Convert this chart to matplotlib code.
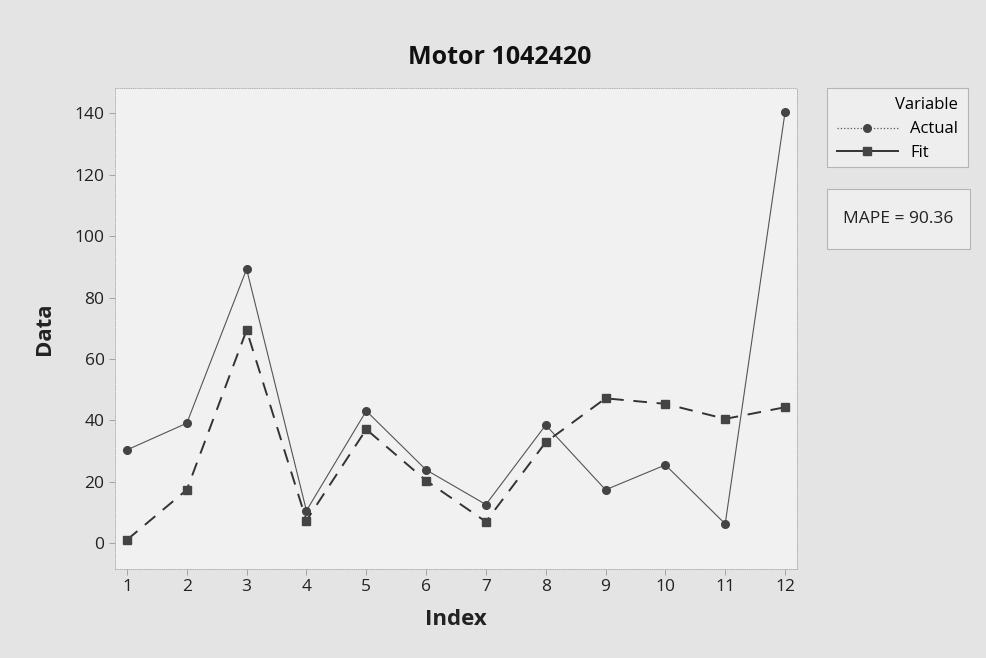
import matplotlib
matplotlib.use("Agg")
import matplotlib.pyplot as plt
from matplotlib.lines import Line2D
from matplotlib.patches import Rectangle

plt.rcParams['font.family'] = ['Open Sans', 'DejaVu Sans']

index = list(range(1, 13))
actual = [30.4, 39.1, 89.3, 10.6, 43.1, 23.9, 12.6, 38.5, 17.4, 25.5, 6.3, 140.4]
fit = [1.1, 17.4, 69.4, 7.4, 37.1, 20.4, 7.0, 32.9, 47.2, 45.4, 40.5, 44.3]
y_ticks = [0, 20, 40, 60, 80, 100, 120, 140]
mape = 90.36

W, H = 987, 658
fig = plt.figure(figsize=(W / 100, H / 100), dpi=100)
fig.patch.set_facecolor('#e4e4e4')
ax = fig.add_axes([115 / W, 1 - 569 / H, (797 - 115) / W, (569 - 88) / H])
ax.set_facecolor('#f1f1f1')

actual_style = dict(color='#555555', lw=0.8, ls='-', marker='o',
                    ms=5.5, mfc='#444444', mec='#444444')
fit_style = dict(color='#333333', lw=1.4, ls=(0, (7, 5)), marker='s',
                 ms=5.5, mfc='#444444', mec='#444444')
ax.plot(index, actual, zorder=3, **actual_style)
ax.plot(index, fit, zorder=3, **fit_style)

ax.set_xlim(0.8, 12.2)
ax.set_ylim(-8.4, 148.3)
ax.set_xticks(index)
ax.set_yticks(y_ticks)
ax.tick_params(labelsize=12.5, colors='#222222', length=4, width=0.6,
               direction='out', color='#999999')
for s in ax.spines.values():
    s.set_color('#aaaaaa')
    s.set_linewidth(0.6)
    s.set_linestyle(':')

ax.set_xlabel('Index', fontsize=16, fontweight='bold', color='#222222', labelpad=10)
ax.set_ylabel('Data', fontsize=16, fontweight='bold', color='#222222', labelpad=14)
fig.text(500 / W, 1 - 57 / H, 'Motor 1042420', fontsize=18, fontweight='bold',
         ha='center', va='center', color='#111111')

# legend panel frame
fig.patches.append(Rectangle((827 / W, 1 - 167 / H), 141 / W, 79 / H,
                             transform=fig.transFigure, facecolor='#eeeeee',
                             edgecolor='#b5b5b5', linewidth=0.8, zorder=1))
handles = [
    Line2D([], [], **{**actual_style, 'ls': ':', 'lw': 0.9}),
    Line2D([], [], **{**fit_style, 'ls': '-'}),
]
leg = fig.legend(handles, ['Actual', 'Fit'], title='Variable',
                 loc='upper right', bbox_to_anchor=(958 / W, 1 - 97 / H),
                 borderaxespad=0, fontsize=12, title_fontsize=12, frameon=False,
                 handlelength=3.7, borderpad=0, labelspacing=0.45, handletextpad=0.7)
leg._legend_box.align = 'right'
leg._legend_box.sep = 6
leg.set_zorder(2)

# MAPE panel
fig.patches.append(Rectangle((827 / W, 1 - 249 / H), 143 / W, 60 / H,
                             transform=fig.transFigure, facecolor='#eeeeee',
                             edgecolor='#b5b5b5', linewidth=0.8, zorder=1))
fig.text(898 / W, 1 - 219 / H, f'MAPE = {mape:.2f}', fontsize=12.5,
         ha='center', va='center', color='#222222', zorder=2)

fig.savefig('out.png', dpi=100, facecolor=fig.get_facecolor())
